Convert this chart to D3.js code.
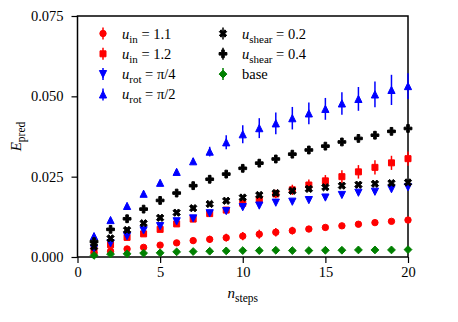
<!DOCTYPE html>
<html>
<head>
<meta charset="utf-8">
<script src="https://cdn.jsdelivr.net/npm/d3@7"></script>
<style>
  body { margin: 0; background: #fff; }
</style>
</head>
<body>
<div id="chart"></div>
<script>
var width = 458,
    height = 322,
    margin = {top: 16, right: 50, bottom: 65, left: 77.5},
    serif = "'Liberation Serif', 'DejaVu Serif', serif";

// data
var steps = [1,2,3,4,5,6,7,8,9,10,11,12,13,14,15,16,17,18,19,20];

var in11 = [0.0012,0.0018,0.0025,0.0030,0.0037,0.0044,0.0051,0.0055,0.0060,0.0065,0.0071,0.0077,0.0082,0.0087,0.0092,0.0097,0.0102,0.0107,0.0111,0.0115];
var in11Err = [0.0004,0.0004,0.0004,0.0004,0.0005,0.0006,0.0009,0.0011,0.0012,0.0013,0.0014,0.0013,0.0012,0.0009,0.0006,0.0005,0.0004,0.0004,0.0004,0.0004];

var in12 = [0.0022,0.0038,0.0061,0.0072,0.0086,0.0103,0.0118,0.0135,0.0146,0.0167,0.0177,0.0196,0.0209,0.0224,0.0237,0.0250,0.0265,0.0279,0.0293,0.0306];
var in12Err = [0.0005,0.0005,0.0005,0.0005,0.0005,0.0006,0.0008,0.0008,0.0009,0.0010,0.0011,0.0013,0.0016,0.0017,0.0018,0.0020,0.0021,0.0022,0.0022,0.0022];

var rot4 = [0.0025,0.0043,0.0065,0.0083,0.0096,0.0111,0.0120,0.0136,0.0143,0.0155,0.0160,0.0169,0.0172,0.0177,0.0185,0.0193,0.0200,0.0203,0.0211,0.0217];
var rot4Err = [0.0004,0.0004,0.0004,0.0004,0.0004,0.0004,0.0005,0.0005,0.0005,0.0005,0.0005,0.0005,0.0005,0.0005,0.0005,0.0005,0.0005,0.0005,0.0005,0.0005];

var rot2 = [0.0065,0.0115,0.0159,0.0197,0.0231,0.0265,0.0298,0.0328,0.0357,0.0382,0.0401,0.0416,0.0432,0.0447,0.0461,0.0478,0.0492,0.0506,0.0520,0.0532];
var rot2Err = [0.0003,0.0004,0.0005,0.0006,0.0007,0.0008,0.0010,0.0015,0.0022,0.0028,0.0031,0.0034,0.0035,0.0034,0.0034,0.0035,0.0037,0.0040,0.0047,0.0040];

var shear02 = [0.0032,0.0058,0.0084,0.0105,0.0122,0.0138,0.0152,0.0165,0.0175,0.0185,0.0193,0.0199,0.0206,0.0212,0.0217,0.0222,0.0225,0.0228,0.0230,0.0232];
var shear02Err = [0.0004,0.0004,0.0004,0.0004,0.0004,0.0004,0.0004,0.0004,0.0004,0.0004,0.0004,0.0004,0.0004,0.0004,0.0004,0.0004,0.0004,0.0004,0.0004,0.0004];

var shear04 = [0.0048,0.0086,0.0119,0.0149,0.0176,0.0199,0.0222,0.0242,0.0258,0.0276,0.0292,0.0305,0.0320,0.0333,0.0345,0.0358,0.0369,0.0379,0.0391,0.0400];
var shear04Err = [0.0004,0.0004,0.0004,0.0004,0.0004,0.0004,0.0004,0.0004,0.0004,0.0004,0.0004,0.0004,0.0004,0.0004,0.0004,0.0004,0.0004,0.0004,0.0004,0.0004];

var base = [0.0005,0.0009,0.0010,0.0012,0.0013,0.0016,0.0017,0.0018,0.0019,0.0020,0.0020,0.0021,0.0020,0.0020,0.0021,0.0021,0.0022,0.0022,0.0022,0.0023];
var baseErr = [0.0002,0.0002,0.0002,0.0002,0.0002,0.0002,0.0002,0.0002,0.0002,0.0002,0.0002,0.0002,0.0002,0.0002,0.0002,0.0002,0.0002,0.0002,0.0002,0.0002];

var xTicks = [0, 5, 10, 15, 20];
var yTicks = [0, 0.025, 0.05, 0.075];

// series in plotting order; sub = subscript, rest = text after it
var series = [
  {name: "u", sub: "in", rest: " = 1.1", vals: in11, errs: in11Err, color: "#ff0000", marker: "circle"},
  {name: "u", sub: "in", rest: " = 1.2", vals: in12, errs: in12Err, color: "#ff0000", marker: "square"},
  {name: "u", sub: "rot", rest: " = \u03c0/4", vals: rot4, errs: rot4Err, color: "#0000ff", marker: "tridown"},
  {name: "u", sub: "rot", rest: " = \u03c0/2", vals: rot2, errs: rot2Err, color: "#0000ff", marker: "triup"},
  {name: "u", sub: "shear", rest: " = 0.2", vals: shear02, errs: shear02Err, color: "#000000", marker: "xfill"},
  {name: "u", sub: "shear", rest: " = 0.4", vals: shear04, errs: shear04Err, color: "#000000", marker: "plusfill"},
  {name: "base", sub: null, rest: "", vals: base, errs: baseErr, color: "#008000", marker: "diamond"}
];

// marker path builders, centered at 0,0
function markerPath(type) {
  if (type == "circle") {
    var r = 3.2;
    return "M" + r + ",0A" + r + "," + r + " 0 1,1 " + (-r) + ",0A" + r + "," + r + " 0 1,1 " + r + ",0Z";
  }
  if (type == "square") { var s = 3.0; return `M${-s},${-s}L${s},${-s}L${s},${s}L${-s},${s}Z`; }
  if (type == "triup") { var t = 3.6; return `M0,${-t}L${t},${t}L${-t},${t}Z`; }
  if (type == "tridown") { var t2 = 3.6; return `M0,${t2}L${t2},${-t2}L${-t2},${-t2}Z`; }
  if (type == "diamond") { var d = 3.9; return `M0,${-d}L${d},0L0,${d}L${-d},0Z`; }
  var u = 3.9 / 3;
  var pts = [[-1,-3],[1,-3],[1,-1],[3,-1],[3,1],[1,1],[1,3],[-1,3],[-1,1],[-3,1],[-3,-1],[-1,-1]];
  if (type == "xfill") {
    var c = Math.SQRT1_2;
    pts = pts.map(p => [(p[0] - p[1]) * c, (p[0] + p[1]) * c]);
  }
  return "M" + pts.map(p => (p[0] * u).toFixed(2) + "," + (p[1] * u).toFixed(2)).join("L") + "Z";
}

var svg = d3.select("#chart").append("svg")
    .attr("width", width)
    .attr("height", height)
    .attr("font-family", serif);

var innerW = width - margin.left - margin.right,
    innerH = height - margin.top - margin.bottom;

var xScale = d3.scaleLinear().domain([0, 20]).range([margin.left, margin.left + innerW]);
var yScale = d3.scaleLinear().domain([0, 0.075]).range([margin.top + innerH, margin.top]);

// axes
var xAxisG = svg.append("g").attr("transform", `translate(0,${margin.top + innerH})`);
xAxisG.call(d3.axisBottom(xScale).tickValues(d3.range(0, 20.01, 2.5)).tickSize(3.5).tickFormat(""));
xAxisG.call(d3.axisBottom(xScale).tickValues(xTicks).tickSize(6).tickPadding(4).tickFormat(d3.format("d")));

var yAxisG = svg.append("g").attr("transform", `translate(${margin.left},0)`);
yAxisG.call(d3.axisLeft(yScale).tickValues(d3.range(0, 0.0751, 0.0125)).tickSize(3.5).tickFormat(""));
yAxisG.call(d3.axisLeft(yScale).tickValues(yTicks).tickSize(6).tickPadding(8).tickFormat(d3.format(".3f")));

svg.selectAll(".domain").remove();
svg.selectAll("g").attr("font-family", serif);
svg.selectAll(".tick line").attr("stroke", "#000").attr("stroke-width", 1.2);
svg.selectAll(".tick text").style("font-size", "14.5px").style("font-family", serif);

// frame
svg.append("rect")
    .attr("x", margin.left)
    .attr("y", margin.top)
    .attr("width", innerW)
    .attr("height", innerH)
    .attr("fill", "none")
    .attr("stroke", "#000")
    .attr("stroke-width", 1.5);

// data
var plot = svg.append("g");
series.forEach(function(s) {
  var g = plot.append("g");
  var pts = steps.map((n, i) => ({n: n, v: s.vals[i], e: s.errs[i]}));
  g.selectAll("line").data(pts).enter().append("line")
      .attr("x1", d => xScale(d.n)).attr("x2", d => xScale(d.n))
      .attr("y1", d => yScale(d.v - d.e)).attr("y2", d => yScale(d.v + d.e))
      .attr("stroke", s.color).attr("stroke-width", 1.5);
  g.selectAll("path").data(pts).enter().append("path")
      .attr("d", markerPath(s.marker))
      .attr("transform", d => `translate(${xScale(d.n)},${yScale(d.v)})`)
      .attr("fill", s.color)
      .attr("stroke", s.color)
      .attr("stroke-width", 1)
      .attr("stroke-linejoin", "round");
});

// legend, two columns
var legend = svg.append("g");
series.forEach(function(s, i) {
  var col = i < 4 ? 0 : 1, row = i < 4 ? i : i - 4;
  var lx = col == 0 ? 103 : 223, ly = 33.5 + row * 20.3;
  var item = legend.append("g").attr("transform", `translate(${lx},${ly})`);
  item.append("line").attr("x1", 0).attr("x2", 0).attr("y1", -6).attr("y2", 6)
      .attr("stroke", s.color).attr("stroke-width", 1.5);
  item.append("path").attr("d", markerPath(s.marker)).attr("fill", s.color)
      .attr("stroke", s.color).attr("stroke-width", 1).attr("stroke-linejoin", "round");
  var t = item.append("text").attr("x", 19).attr("y", 5)
      .style("font-family", serif).style("font-size", "14.5px");
  if (s.sub) {
    t.append("tspan").style("font-style", "italic").text(s.name);
    t.append("tspan").attr("dy", 4).style("font-size", "11px").text(s.sub);
    t.append("tspan").attr("dy", -4).text(s.rest);
  } else {
    t.text(s.name);
  }
});

// axis labels
var xl = svg.append("text")
    .attr("x", xScale(10))
    .attr("y", 298)
    .attr("text-anchor", "middle")
    .style("font-family", serif)
    .style("font-size", "15px");
xl.append("tspan").style("font-style", "italic").text("n");
xl.append("tspan").attr("dy", 4).style("font-size", "11.5px").text("steps");

var yl = svg.append("text")
    .attr("transform", `translate(21,${yScale(0.0375)}) rotate(-90)`)
    .attr("text-anchor", "middle")
    .style("font-family", serif)
    .style("font-size", "15px");
yl.append("tspan").style("font-style", "italic").text("E");
yl.append("tspan").attr("dy", 4).style("font-size", "11.5px").text("pred");
</script>
</body>
</html>
